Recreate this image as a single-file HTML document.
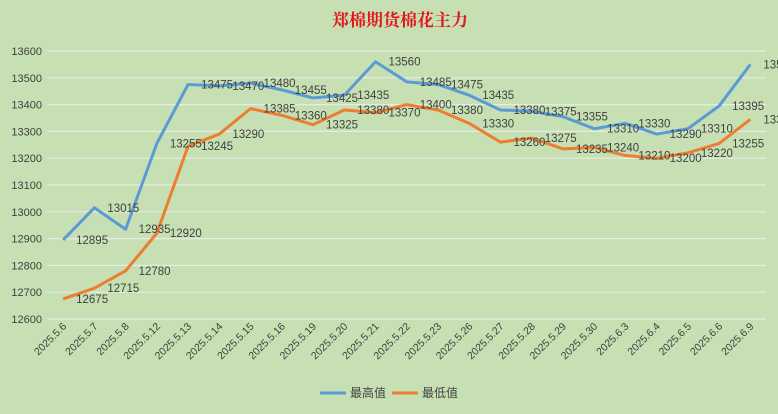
<!DOCTYPE html>
<html><head><meta charset="utf-8"><style>
body{margin:0;background:#c6e0b4;}
svg{display:block;font-family:"Liberation Sans","Noto Sans CJK SC",sans-serif;}
</style></head><body>
<svg id="chart" width="778" height="414" viewBox="0 0 778 414" xmlns="http://www.w3.org/2000/svg">
<rect width="778" height="414" fill="#c6e0b4"/>
<text x="400" y="26" text-anchor="middle" font-size="17" font-weight="bold" fill="#e5141b" font-family="'Noto Serif CJK SC','Noto Sans CJK SC',serif">郑棉期货棉花主力</text>
<g id="grid"></g><g id="yticks"></g><g id="xticks"></g><g id="series"></g><g id="labels"></g>
<g>
<line x1="320" y1="393" x2="346" y2="393" stroke="#5b9bd5" stroke-width="3"/>
<text x="350" y="397" font-size="12" fill="#404040">最高值</text>
<line x1="392" y1="393" x2="418" y2="393" stroke="#ed7d31" stroke-width="3"/>
<text x="422" y="397" font-size="12" fill="#404040">最低值</text>
</g>
</svg>
<script>
const categories=["2025.5.6","2025.5.7","2025.5.8","2025.5.12","2025.5.13","2025.5.14","2025.5.15","2025.5.16","2025.5.19","2025.5.20","2025.5.21","2025.5.22","2025.5.23","2025.5.26","2025.5.27","2025.5.28","2025.5.29","2025.5.30","2025.6.3","2025.6.4","2025.6.5","2025.6.6","2025.6.9"];
const highValues=[12895,13015,12935,13255,13475,13470,13480,13455,13425,13435,13560,13485,13475,13435,13380,13375,13355,13310,13330,13290,13310,13395,13550];
const lowValues=[12675,12715,12780,12920,13245,13290,13385,13360,13325,13380,13370,13400,13380,13330,13260,13275,13235,13240,13210,13200,13220,13255,13345];
const yTicks=[12600,12700,12800,12900,13000,13100,13200,13300,13400,13500,13600];
const NS="http://www.w3.org/2000/svg";
const pLeft=47.5,pRight=766,pTop=51,pBottom=319,yMin=12600,yMax=13600;
const band=(pRight-pLeft)/categories.length;
function xPos(i){return pLeft+band*(i+0.5);}
function yPos(v){return pBottom-(v-yMin)/(yMax-yMin)*(pBottom-pTop);}
function mk(tag,attrs,parent){const e=document.createElementNS(NS,tag);for(const k in attrs)e.setAttribute(k,attrs[k]);document.getElementById(parent).appendChild(e);return e;}
yTicks.forEach(t=>{
 const g=mk("line",{x1:pLeft,x2:pRight,y1:yPos(t),y2:yPos(t),stroke:"#e6ece2","stroke-width":1.2},"grid");
 
 
 const l=mk("text",{x:42,y:yPos(t)+4,"text-anchor":"end","font-size":11,fill:"#404040"},"yticks");
 l.textContent=t;
 
 
});
categories.forEach((c,i)=>{
 const xx=xPos(i)+4;
 const t=mk("text",{x:xx,y:327,"text-anchor":"end","font-size":10.5,fill:"#404040",transform:"rotate(-45 "+xx+" 327)"},"xticks");
 t.textContent=c;
 
 
});
function series(vals,color,name){
 const p=mk("polyline",{points:vals.map((v,i)=>xPos(i)+","+yPos(v)).join(" "),fill:"none",stroke:color,"stroke-width":3,"stroke-linejoin":"round"},"series");
 
 
 vals.forEach((v,i)=>{
  const t=mk("text",{x:xPos(i)+13,y:yPos(v)+4,"font-size":11.5,fill:"#404040"},"labels");
  t.textContent=v;
  
  
 });
}
series(highValues,"#5b9bd5","high");
series(lowValues,"#ed7d31","low");
</script>
</body></html>
